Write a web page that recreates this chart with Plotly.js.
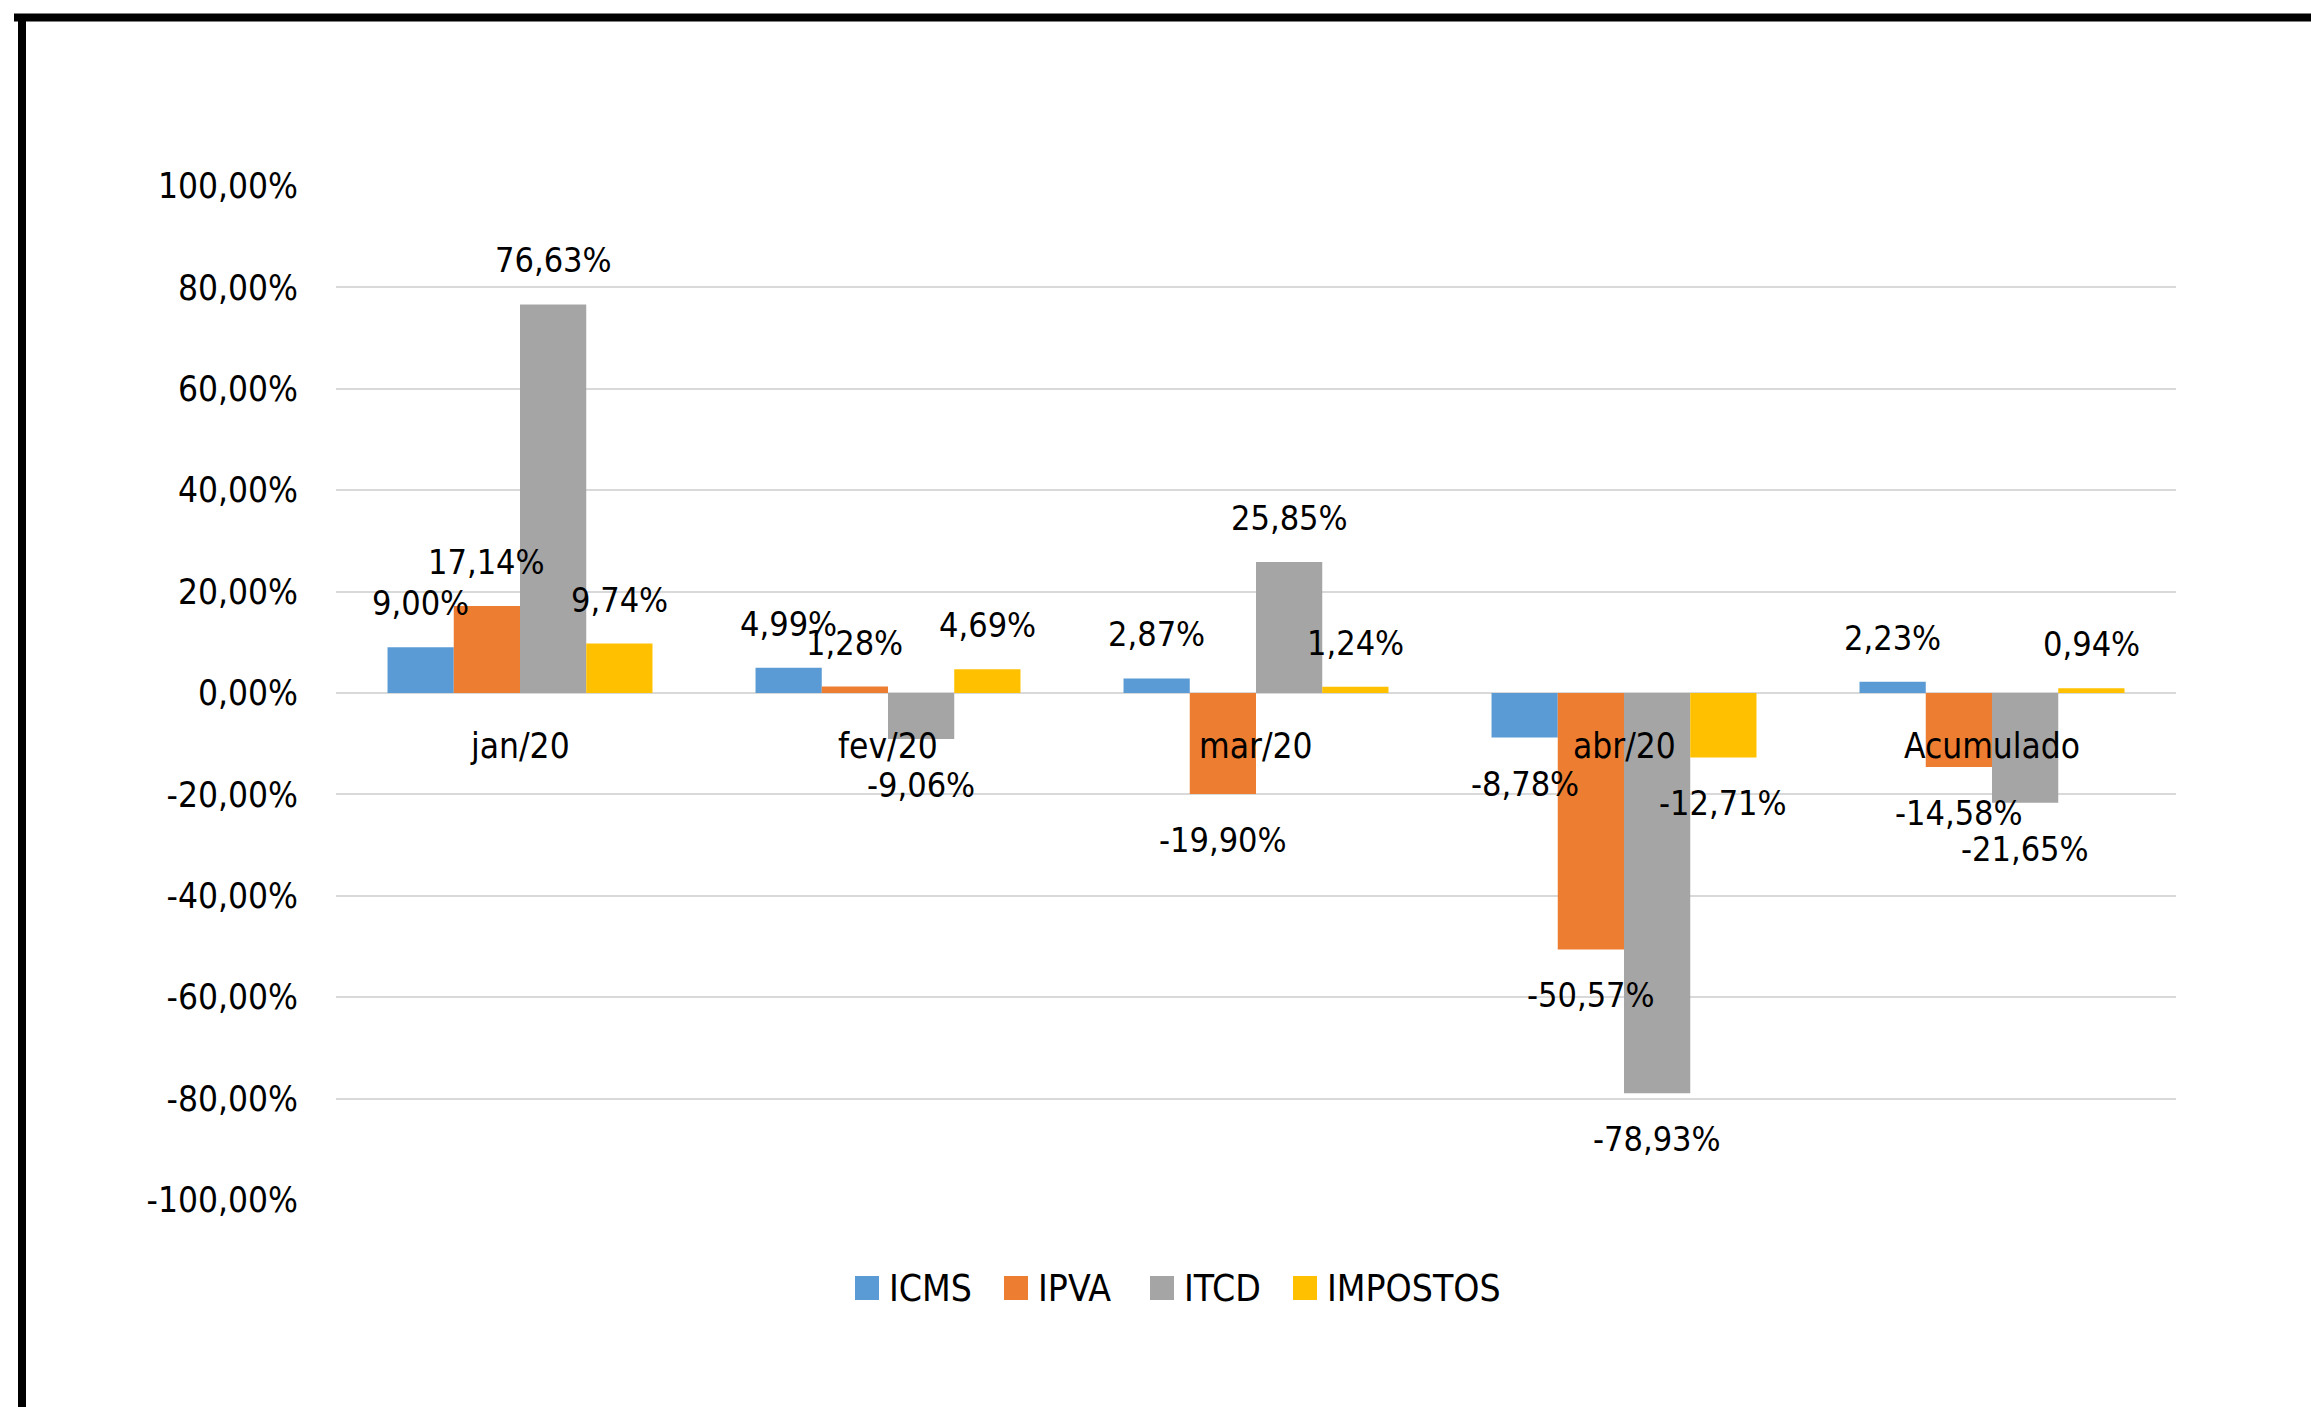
<!DOCTYPE html>
<html>
<head>
<meta charset="utf-8">
<script src="https://cdn.plot.ly/plotly-3.0.1.min.js"></script>
<style>
  html, body { margin: 0; padding: 0; background: #ffffff; }
  #chart { width: 2311px; height: 1407px; }
</style>
</head>
<body>
<div id="chart"></div>
<script>
const categories = ['jan/20', 'fev/20', 'mar/20', 'abr/20', 'Acumulado'];
const seriesNames = ['ICMS', 'IPVA', 'ITCD', 'IMPOSTOS'];
const icms = [9.00, 4.99, 2.87, -8.78, 2.23];
const ipva = [17.14, 1.28, -19.90, -50.57, -14.58];
const itcd = [76.63, -9.06, 25.85, -78.93, -21.65];
const impostos = [9.74, 4.69, 1.24, -12.71, 0.94];
const tickValues = [-100, -80, -60, -40, -20, 0, 20, 40, 60, 80, 100];
const tickLabels = ['-100,00%', '-80,00%', '-60,00%', '-40,00%', '-20,00%', '0,00%',
                    '20,00%', '40,00%', '60,00%', '80,00%', '100,00%'];

const colors = ['#5B9BD5', '#ED7D31', '#A5A5A5', '#FFC000'];
const seriesValues = [icms, ipva, itcd, impostos];
const FONT = '"DejaVu Sans Condensed", "Liberation Sans Narrow", "Open Sans", sans-serif';
const bargap = 0.28;

function fmt(v) {
  return v.toFixed(2).replace('.', ',') + '%';
}

const traces = seriesValues.map((vals, i) => ({
  type: 'bar',
  name: seriesNames[i],
  x: categories,
  y: vals,
  marker: { color: colors[i] },
  showlegend: false,
  hoverinfo: 'name+y'
}));

const W = 2311, H = 1407;
const m = { l: 336, r: 135, t: 186, b: 207 };
const pw = W - m.l - m.r, ph = H - m.t - m.b;
const px2x = p => (p - m.l) / pw;
const py2y = p => (H - m.b - p) / ph;

const annotations = [];
seriesValues.forEach((vals, si) => {
  vals.forEach((v, ci) => {
    annotations.push({
      x: ci + (si - 1.5) * (1 - bargap) / 4,
      y: v,
      xref: 'x', yref: 'y',
      text: fmt(v),
      showarrow: false,
      xanchor: 'center',
      yanchor: 'middle',
      yshift: v >= 0 ? 44 : -46,
      font: { family: FONT, size: 34, color: '#000000' }
    });
  });
});
categories.forEach((c, ci) => {
  annotations.push({
    x: ci, y: 0, xref: 'x', yref: 'y',
    text: c, showarrow: false,
    xanchor: 'center', yanchor: 'middle',
    yshift: -53,
    font: { family: FONT, size: 35, color: '#000000' }
  });
});

const shapes = [
  { type: 'line', xref: 'paper', yref: 'paper',
    x0: px2x(14), x1: px2x(W + 10), y0: py2y(17.5), y1: py2y(17.5),
    line: { color: '#000000', width: 8 } },
  { type: 'line', xref: 'paper', yref: 'paper',
    x0: px2x(22), x1: px2x(22), y0: py2y(14), y1: py2y(H + 10),
    line: { color: '#000000', width: 8 } }
];

// legend (drawn as squares + text)
const legendSquareLeft = [855, 1004, 1150, 1293];
const legendY = 1288, sq = 24;
seriesNames.forEach((name, i) => {
  const x0 = legendSquareLeft[i];
  shapes.push({
    type: 'rect', xref: 'paper', yref: 'paper',
    x0: px2x(x0), x1: px2x(x0 + sq),
    y0: py2y(legendY - sq / 2), y1: py2y(legendY + sq / 2),
    fillcolor: colors[i], line: { width: 0 }
  });
  annotations.push({
    xref: 'paper', yref: 'paper',
    x: px2x(x0 + sq + 8), y: py2y(legendY),
    xanchor: 'left', yanchor: 'middle',
    text: name, showarrow: false,
    font: { family: FONT, size: 37, color: '#000000' }
  });
});

const layout = {
  width: W, height: H,
  margin: m,
  paper_bgcolor: '#ffffff',
  plot_bgcolor: '#ffffff',
  barmode: 'group',
  bargap: bargap,
  bargroupgap: 0,
  showlegend: false,
  xaxis: {
    type: 'category',
    range: [-0.5, 4.5],
    showticklabels: false,
    showgrid: false,
    zeroline: false,
    showline: false,
    ticks: ''
  },
  yaxis: {
    range: [-100, 100],
    tickmode: 'array',
    tickvals: tickValues,
    ticktext: tickLabels,
    showgrid: true,
    gridcolor: '#d9d9d9',
    gridwidth: 2,
    zeroline: true,
    zerolinecolor: '#d9d9d9',
    zerolinewidth: 2,
    showline: false,
    ticks: '',
    ticklabelstandoff: 37,
    tickfont: { family: FONT, size: 35, color: '#000000' }
  },
  annotations: annotations,
  shapes: shapes
};

Plotly.newPlot('chart', traces, layout, { displayModeBar: false, staticPlot: true });
</script>
</body>
</html>
